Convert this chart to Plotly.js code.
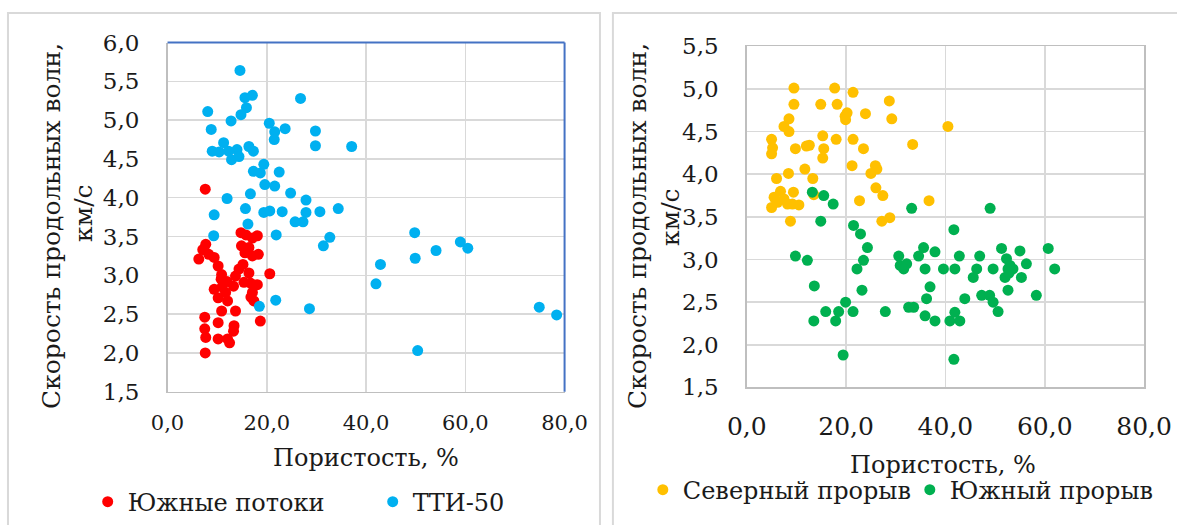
<!DOCTYPE html>
<html>
<head>
<meta charset="utf-8">
<script src="https://cdn.plot.ly/plotly-3.0.1.min.js"></script>
<style>html,body{margin:0;padding:0;background:#fff;}#chart{width:1177px;height:525px;}</style>
</head>
<body>
<div id="chart"></div>
<script>
// ---- Data: left chart ----
const southFlowX = [7.6,7.7,7.1,6.3,8.3,9.4,10.2,10.9,10.8,9.4,10.2,11.7,12.1,10.9,13.3,13.7,14.4,15.2,15.6,14.9,14.8,15.8,17.1,18.1,16.4,17.1,18.3,16.4,15.4,16.7,18.1,17.1,16.8,17.4,20.6,18.7,13.7,10.2,7.5,7.5,7.7,7.6,10.2,12.1,12.5,13.3,13.4,11.0,12.0];
const southFlowY = [4.11,3.40,3.33,3.21,3.27,3.23,3.12,3.01,2.95,2.82,2.71,2.78,2.67,2.54,2.86,2.99,3.08,3.14,3.29,3.38,3.55,3.52,3.48,3.51,3.36,3.25,3.27,3.03,2.91,2.90,2.88,2.78,2.72,2.67,3.02,2.41,2.54,2.39,2.46,2.31,2.20,2.00,2.18,2.18,2.13,2.28,2.35,2.85,2.92];

const tti50X = [14.6,26.8,15.6,17.1,15.9,14.8,8.1,12.8,8.8,20.5,21.6,23.7,21.5,29.8,29.8,37.1,9.0,11.3,12.3,12.9,14.0,14.4,16.4,17.3,10.4,19.4,17.3,18.7,22.5,19.6,21.6,24.8,12.0,16.7,27.9,27.9,27.3,25.7,30.7,34.4,32.7,31.4,21.9,19.4,20.6,23.1,15.7,16.2,9.4,9.3,42.9,42.0,18.5,21.8,28.6,49.8,49.9,54.1,59.0,60.5,50.4,74.9,78.4];
const tti50Y = [5.64,5.28,5.29,5.32,5.16,5.07,5.11,4.99,4.88,4.96,4.85,4.89,4.75,4.86,4.67,4.66,4.60,4.71,4.60,4.49,4.62,4.53,4.66,4.60,4.59,4.43,4.34,4.32,4.33,4.17,4.15,4.06,3.99,4.05,3.97,3.81,3.69,3.69,3.82,3.86,3.49,3.38,3.52,3.81,3.83,3.82,3.86,3.66,3.78,3.51,3.14,2.89,2.60,2.68,2.57,3.55,3.22,3.32,3.43,3.35,2.03,2.59,2.49];

// ---- Data: right chart ----
const northBreakX = [9.5,17.7,21.4,28.7,9.5,14.9,18.2,20.2,19.9,23.9,29.2,8.5,7.5,8.5,40.5,5.0,5.2,5.0,9.8,12.0,15.3,15.5,15.3,18.0,21.4,23.5,33.4,21.2,25.9,25.0,26.2,11.7,13.3,8.4,6.0,26.0,27.4,22.7,36.7,6.8,9.4,5.5,5.0,6.2,8.2,10.5,8.8,13.5,27.2,28.8,7.5,9.2,19.8,12.6];
const northBreakY = [5.01,5.01,4.96,4.86,4.82,4.82,4.82,4.72,4.64,4.71,4.65,4.65,4.56,4.50,4.56,4.41,4.31,4.24,4.30,4.33,4.45,4.30,4.19,4.41,4.41,4.30,4.35,4.10,4.10,4.01,4.06,4.06,3.95,4.01,3.95,3.84,3.75,3.69,3.69,3.80,3.79,3.73,3.61,3.67,3.65,3.64,3.45,3.76,3.45,3.49,3.71,3.65,4.68,4.34];

const southBreakX = [13.2,15.5,17.4,33.2,49.0,14.9,21.5,22.9,24.3,41.7,9.8,12.2,23.5,22.2,13.6,23.2,30.6,30.9,32.2,31.6,34.6,35.6,37.9,35.9,39.6,41.9,42.8,46.9,46.3,45.6,49.6,51.3,52.3,52.6,52.0,53.6,55.0,55.3,56.3,60.7,62.0,36.9,36.2,43.9,47.3,48.9,49.6,52.6,58.3,50.6,32.6,33.6,35.9,37.9,40.9,41.9,42.9,27.9,13.5,15.9,17.9,18.5,19.9,21.4,19.4,41.7,53.0,52.8];
const southBreakY = [3.79,3.75,3.65,3.60,3.60,3.45,3.40,3.30,3.14,3.35,3.04,2.99,2.99,2.89,2.69,2.64,3.04,2.93,2.95,2.89,3.04,3.14,3.09,2.89,2.89,2.89,3.04,3.04,2.89,2.79,2.89,3.13,3.01,2.89,2.79,2.89,3.10,2.79,2.95,3.13,2.89,2.68,2.54,2.54,2.58,2.58,2.50,2.64,2.58,2.39,2.44,2.44,2.34,2.28,2.28,2.38,2.28,2.39,2.28,2.39,2.28,2.39,2.50,2.39,1.88,1.83,2.93,2.84];

// ---- Labels ----
const seriesNames = ['Южные потоки', 'ТТИ-50', 'Северный прорыв', 'Южный прорыв'];
const xTitle = 'Пористость, %';
const yTitleLine1 = 'Скорость продольных волн,';
const yTitleLine2 = 'км/с';

const W = 1177, H = 525;
const px = v => v / W;
const py = v => 1 - v / H;
const serif = 'DejaVu Serif';
const txt = '#1a1a1a';
const grid = '#d9d9d9';

const mk = c => ({color: c, size: 11, line: {width: 0}});

const traces = [
  {x: southFlowX, y: southFlowY, name: seriesNames[0], type: 'scatter', mode: 'markers', marker: mk('#ff0000'), xaxis: 'x', yaxis: 'y', legend: 'legend'},
  {x: tti50X, y: tti50Y, name: seriesNames[1], type: 'scatter', mode: 'markers', marker: mk('#00b0f0'), xaxis: 'x', yaxis: 'y', legend: 'legend'},
  {x: northBreakX, y: northBreakY, name: seriesNames[2], type: 'scatter', mode: 'markers', marker: mk('#ffc000'), xaxis: 'x2', yaxis: 'y2', legend: 'legend2'},
  {x: southBreakX, y: southBreakY, name: seriesNames[3], type: 'scatter', mode: 'markers', marker: mk('#00b050'), xaxis: 'x2', yaxis: 'y2', legend: 'legend2'}
];

const xBase = (fs, standoff) => ({
  range: [0, 80], dtick: 20, tick0: 0, tickformat: '.1f', showgrid: true, gridcolor: grid, gridwidth: 1.5,
  zeroline: false, showline: true, linecolor: '#bfbfbf', linewidth: 1.5, ticks: '',
  ticklabelstandoff: standoff, tickfont: {family: serif, size: fs, color: txt}, fixedrange: true
});
const yBase = (r, fs, standoff) => ({
  range: r, dtick: 0.5, tick0: 1.5, tickformat: '.1f', showgrid: true, gridcolor: grid, gridwidth: 1.5,
  zeroline: false, showline: true, linecolor: '#bfbfbf', linewidth: 1.5, ticks: '',
  ticklabelstandoff: standoff, tickfont: {family: serif, size: fs, color: txt}, fixedrange: true
});

const layout = {
  width: W, height: H,
  margin: {l: 0, r: 0, t: 0, b: 0},
  paper_bgcolor: '#ffffff', plot_bgcolor: '#ffffff',
  separators: ', ',
  showlegend: true,
  font: {family: serif, color: txt},
  xaxis: Object.assign(xBase(21, 12), {domain: [px(168.1), px(566.5)], anchor: 'y'}),
  yaxis: Object.assign(yBase([1.5, 6.0], 23, 22), {domain: [1 - 393.2 / H, 1 - 42.7 / H], anchor: 'x'}),
  xaxis2: Object.assign(xBase(25, 16), {domain: [px(749.3), px(1148)], anchor: 'y2', mirror: true}),
  yaxis2: Object.assign(yBase([1.5, 5.5], 23, 22), {domain: [1 - 388.9 / H, 1 - 46.5 / H], anchor: 'x2', mirror: true}),
  legend: {orientation: 'h', x: px(88), xanchor: 'left', y: py(504), yanchor: 'middle',
           font: {family: serif, size: 24, color: txt}, entrywidth: 240, bgcolor: 'rgba(0,0,0,0)'},
  legend2: {orientation: 'h', x: px(645), xanchor: 'left', y: py(492), yanchor: 'middle',
           font: {family: serif, size: 24, color: txt}, entrywidth: 222, bgcolor: 'rgba(0,0,0,0)'},
  annotations: [
    {text: yTitleLine1, xref: 'paper', yref: 'paper', x: px(51), y: py(227), textangle: -90, showarrow: false,
     xanchor: 'center', yanchor: 'middle', font: {family: serif, size: 25, color: txt}},
    {text: yTitleLine2, xref: 'paper', yref: 'paper', x: px(83), y: py(214), textangle: -90, showarrow: false,
     xanchor: 'center', yanchor: 'middle', font: {family: serif, size: 25, color: txt}},
    {text: xTitle, xref: 'paper', yref: 'paper', x: px(367), y: py(460), showarrow: false,
     xanchor: 'center', yanchor: 'middle', font: {family: serif, size: 24, color: txt}},
    {text: yTitleLine1, xref: 'paper', yref: 'paper', x: px(639), y: py(227), textangle: -90, showarrow: false,
     xanchor: 'center', yanchor: 'middle', font: {family: serif, size: 25, color: txt}},
    {text: yTitleLine2, xref: 'paper', yref: 'paper', x: px(672), y: py(218), textangle: -90, showarrow: false,
     xanchor: 'center', yanchor: 'middle', font: {family: serif, size: 25, color: txt}},
    {text: xTitle, xref: 'paper', yref: 'paper', x: px(946), y: py(467), showarrow: false,
     xanchor: 'center', yanchor: 'middle', font: {family: serif, size: 24, color: txt}}
  ],
  shapes: [
    {type: 'rect', xref: 'paper', yref: 'paper', x0: px(8), x1: px(602), y0: -0.1, y1: py(13),
     line: {color: '#d9d9d9', width: 2}, fillcolor: 'rgba(0,0,0,0)', layer: 'below'},
    {type: 'rect', xref: 'paper', yref: 'paper', x0: px(615), x1: 1.1, y0: -0.1, y1: py(13),
     line: {color: '#d9d9d9', width: 2}, fillcolor: 'rgba(0,0,0,0)', layer: 'below'},
    {type: 'line', xref: 'x domain', yref: 'y domain', x0: 0, x1: 1, y0: 1, y1: 1, line: {color: '#4472c4', width: 2}},
    {type: 'line', xref: 'x domain', yref: 'y domain', x0: 1, x1: 1, y0: 0, y1: 1, line: {color: '#4472c4', width: 2}}
  ]
};

Plotly.newPlot('chart', traces, layout, {displayModeBar: false, staticPlot: true});
</script>
</body>
</html>
